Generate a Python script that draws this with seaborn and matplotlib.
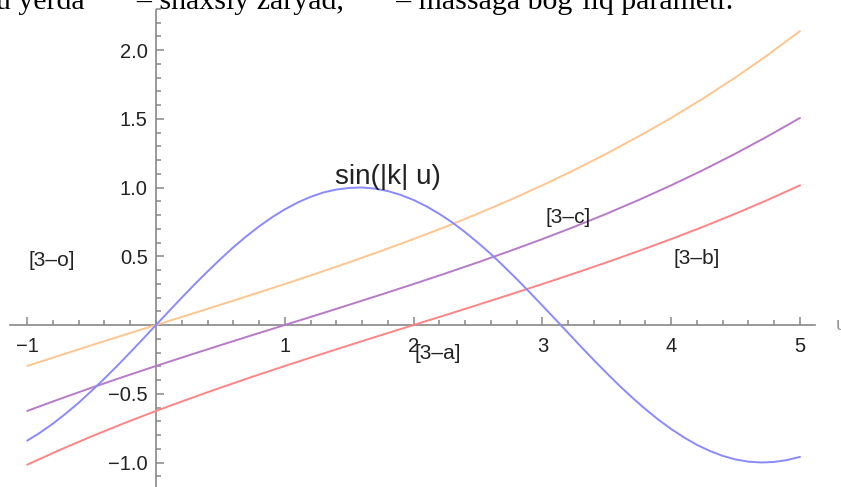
import numpy as np
import pandas as pd
import seaborn as sns
import matplotlib.pyplot as plt
from matplotlib.ticker import MultipleLocator, FixedLocator

# values
u_sin = [-1.0, -0.9, -0.8, -0.7, -0.6, -0.5, -0.4, -0.3, -0.2, -0.1,
         0.0, 0.1, 0.2, 0.3, 0.4, 0.5, 0.6, 0.7, 0.8, 0.9,
         1.0, 1.1, 1.2, 1.3, 1.4, 1.5, 1.6, 1.7, 1.8, 1.9,
         2.0, 2.1, 2.2, 2.3, 2.4, 2.5, 2.6, 2.7, 2.8, 2.9,
         3.0, 3.1, 3.2, 3.3, 3.4, 3.5, 3.6, 3.7, 3.8, 3.9,
         4.0, 4.1, 4.2, 4.3, 4.4, 4.5, 4.6, 4.7, 4.8, 4.9, 5.0]
sin_vals = [-0.841, -0.783, -0.717, -0.644, -0.565, -0.479, -0.389, -0.296, -0.199, -0.100,
            0.0, 0.100, 0.199, 0.296, 0.389, 0.479, 0.565, 0.644, 0.717, 0.783,
            0.841, 0.891, 0.932, 0.964, 0.985, 0.997, 1.000, 0.992, 0.974, 0.946,
            0.909, 0.863, 0.808, 0.746, 0.675, 0.598, 0.516, 0.427, 0.335, 0.239,
            0.141, 0.042, -0.058, -0.158, -0.256, -0.351, -0.443, -0.530, -0.612, -0.688,
            -0.757, -0.818, -0.872, -0.916, -0.952, -0.978, -0.994, -1.000, -0.996, -0.982, -0.959]

u_line = [-1.0, -0.75, -0.5, -0.25, 0.0, 0.25, 0.5, 0.75, 1.0, 1.25, 1.5, 1.75, 2.0,
          2.25, 2.5, 2.75, 3.0, 3.25, 3.5, 3.75, 4.0, 4.25, 4.5, 4.75, 5.0]
orange_vals = [-0.298, -0.222, -0.147, -0.073, 0.0, 0.073, 0.147, 0.222, 0.298, 0.376,
               0.456, 0.539, 0.625, 0.715, 0.810, 0.910, 1.016, 1.128, 1.247, 1.373,
               1.506, 1.649, 1.801, 1.964, 2.138]
purple_vals = [-0.625, -0.539, -0.456, -0.376, -0.298, -0.222, -0.147, -0.073, 0.0, 0.073,
               0.147, 0.222, 0.298, 0.376, 0.456, 0.539, 0.625, 0.715, 0.810, 0.910,
               1.016, 1.128, 1.247, 1.373, 1.506]
red_vals = [-1.016, -0.910, -0.810, -0.715, -0.625, -0.539, -0.456, -0.376, -0.298, -0.222,
            -0.147, -0.073, 0.0, 0.073, 0.147, 0.222, 0.298, 0.376, 0.456, 0.539,
            0.625, 0.715, 0.810, 0.910, 1.016]

x_ticks = [-1, 1, 2, 3, 4, 5]
y_ticks = [-1.0, -0.5, 0.5, 1.0, 1.5, 2.0]

labels = ['[3\u2013o]', '[3\u2013a]', '[3\u2013c]', '[3\u2013b]']
label_pos = [(-0.81, 0.47), (2.19, -0.21), (3.20, 0.78), (4.20, 0.48)]

sns.set_style("white")
plt.rcParams['font.family'] = ['Liberation Sans', 'DejaVu Sans']

fig = plt.figure(figsize=(8.41, 4.87), dpi=100)
ax = fig.add_axes([0, 0, 1, 1])

sns.lineplot(x=u_line, y=orange_vals, color='#ffc58e', lw=1.4, ax=ax)
sns.lineplot(x=u_line, y=purple_vals, color='#b77ac9', lw=1.4, ax=ax)
sns.lineplot(x=u_line, y=red_vals, color='#ff8585', lw=1.4, ax=ax)
sns.lineplot(x=u_sin, y=sin_vals, color='#8a8aff', lw=1.4, ax=ax)

ax.set_xlim(-156 / 128.8, (841 - 156) / 128.8)
ax.set_ylim(-(487 - 325) / 137.5, 325 / 137.5)

axis_col = '#888888'
for side in ['top', 'right']:
    ax.spines[side].set_visible(False)
ax.spines['left'].set_position(('data', 0))
ax.spines['bottom'].set_position(('data', 0))
ax.spines['left'].set_bounds(-1.2, 2.29)
ax.spines['bottom'].set_bounds(-1.135, 5.12)
for side in ['left', 'bottom']:
    ax.spines[side].set_color(axis_col)
    ax.spines[side].set_linewidth(1.2)
    ax.spines[side].set_zorder(0)

ax.xaxis.set_major_locator(FixedLocator(x_ticks))
ax.yaxis.set_major_locator(FixedLocator(y_ticks))
ax.xaxis.set_minor_locator(FixedLocator(np.arange(-1.0, 5.01, 0.2)))
ax.yaxis.set_minor_locator(MultipleLocator(0.1))
ax.set_xticklabels([str(t).replace('-', '\u2212') for t in x_ticks])
ax.set_yticklabels([f'{t:.1f}'.replace('-', '\u2212') for t in y_ticks])

ax.tick_params(axis='x', which='both', direction='in', color=axis_col, width=1.1,
               labelsize=14.5, labelcolor='#222222', pad=9, bottom=True)
ax.tick_params(axis='y', which='both', direction='in', color=axis_col, width=1.1,
               labelsize=14.5, labelcolor='#222222', pad=6, left=True)
ax.tick_params(which='major', length=5.5)
ax.tick_params(which='minor', length=3.5)
ax.grid(False)

ax.text(1.80, 1.08, 'sin(|k| u)', fontsize=20, ha='center', va='center', color='#222222')
for s, (px, py) in zip(labels, label_pos):
    ax.text(px, py, s, fontsize=15, ha='center', va='center', color='#222222')

ax.text(5.28, 0.0, 'u', fontsize=14, ha='left', va='center', color='#999999')

fig.text(-0.005, 1 - 9 / 487,
         "u yerda \u2003\u2002\u2013 shaxsiy zaryad, \u2003\u2002\u2013 massaga bog\u2018liq parametr.",
         fontsize=21.5, family='Liberation Serif', ha='left', va='baseline', color='black')

fig.savefig('out.png', dpi=100)
